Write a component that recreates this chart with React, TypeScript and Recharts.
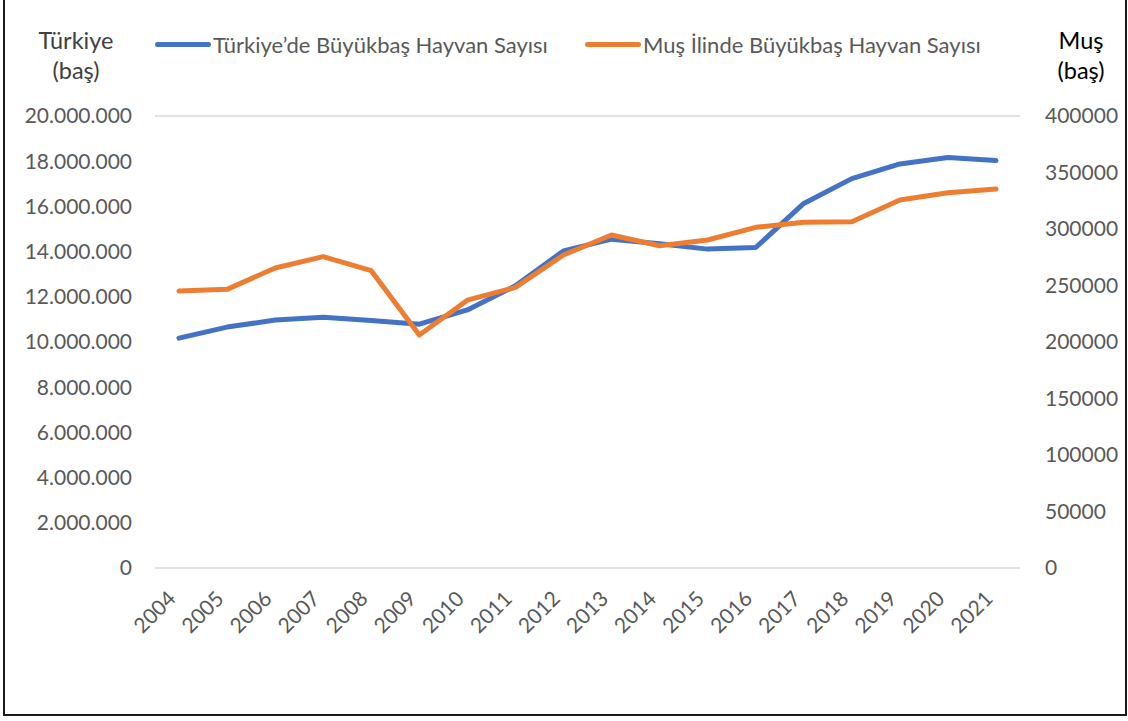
import { CartesianGrid, Legend, Line, LineChart, XAxis, YAxis } from "recharts";

const years = [
  "2004", "2005", "2006", "2007", "2008", "2009", "2010", "2011", "2012",
  "2013", "2014", "2015", "2016", "2017", "2018", "2019", "2020", "2021",
];

const turkiye = [
  10170000, 10660000, 10970000, 11100000, 10950000, 10790000, 11420000, 12490000, 14030000,
  14550000, 14350000, 14110000, 14180000, 16130000, 17230000, 17880000, 18160000, 18030000,
];

const mus = [
  245100, 246600, 265500, 275500, 263100, 206200, 237000, 248400, 277000,
  294700, 285200, 290300, 301500, 305900, 306500, 325700, 332100, 335400,
];

const leftTicks = [0, 2000000, 4000000, 6000000, 8000000, 10000000, 12000000, 14000000, 16000000, 18000000, 20000000];
const rightTicks = [0, 50000, 100000, 150000, 200000, 250000, 300000, 350000, 400000];

const seriesNames = ["Türkiye’de Büyükbaş Hayvan Sayısı", "Muş İlinde Büyükbaş Hayvan Sayısı"];

const data = years.map((year, i) => ({ year, turkiye: turkiye[i], mus: mus[i] }));

const FONT = "Lato, 'Open Sans', sans-serif";
const GREY = "#595959";
const BLUE = "#4472C4";
const ORANGE = "#ED7D31";

const dotted = (v: number) => v.toString().replace(/\B(?=(\d{3})+(?!\d))/g, ".");

function YearTick({ x, y, payload }: any) {
  const ax = x - 2;
  const ay = y + 24;
  return (
    <text
      x={ax}
      y={ay}
      transform={`rotate(-45, ${ax}, ${ay})`}
      textAnchor="end"
      fill={GREY}
      fontSize={21}
      fontFamily={FONT}
    >
      {payload.value}
    </text>
  );
}

function LegendRow() {
  const item = (color: string, label: string, left: number) => (
    <div style={{ position: "absolute", left, top: 0, display: "flex", alignItems: "center" }}>
      <span style={{ width: 56, height: 5, borderRadius: 3, background: color, display: "inline-block" }} />
      <span style={{ marginLeft: 2, color: GREY, fontSize: 22, fontFamily: FONT, whiteSpace: "nowrap" }}>{label}</span>
    </div>
  );
  return (
    <div style={{ position: "relative", height: 28 }}>
      {item(BLUE, seriesNames[0], 155)}
      {item(ORANGE, seriesNames[1], 585)}
    </div>
  );
}

function AxisTitle({ lines, cx, color }: { lines: string[]; cx: number; color: string }) {
  return (
    <text x={cx} y={49} textAnchor="middle" fill={color} fontSize={23.5} fontFamily={FONT}>
      {lines.map((l, i) => (
        <tspan key={i} x={cx} dy={i === 0 ? 0 : 30}>
          {l}
        </tspan>
      ))}
    </text>
  );
}

export default function App() {
  return (
    <div
      style={{
        position: "absolute",
        left: 0,
        top: 0,
        width: 1128,
        height: 721,
        background: "#fff",
      }}
    >
      <div
        style={{
          position: "absolute",
          left: 3,
          top: -4,
          width: 1120,
          height: 718,
          border: "2px solid #1a1a1a",
          borderTop: "none",
        }}
      />
      <LineChart
        width={1128}
        height={721}
        data={data}
        margin={{ top: 116, right: 0, bottom: 93, left: 0 }}
      >
        <CartesianGrid vertical={false} stroke="#d9d9d9" strokeWidth={1.5} />
        <XAxis
          dataKey="year"
          interval={0}
          axisLine={false}
          tickLine={false}
          height={60}
          padding={{ left: 24, right: 24 }}
          tick={<YearTick />}
        />
        <YAxis
          yAxisId="left"
          width={155}
          domain={[0, 20000000]}
          ticks={leftTicks}
          tickFormatter={dotted}
          axisLine={false}
          tickLine={false}
          tickMargin={17}
          tick={{ fill: GREY, fontSize: 21, fontFamily: FONT }}
          label={{ content: () => <AxisTitle lines={["Türkiye", "(baş)"]} cx={76} color="#404040" /> }}
        />
        <YAxis
          yAxisId="right"
          orientation="right"
          width={108}
          domain={[0, 400000]}
          ticks={rightTicks}
          axisLine={false}
          tickLine={false}
          tickMargin={19}
          tick={{ fill: GREY, fontSize: 21, fontFamily: FONT, textAnchor: "start" }}
          label={{ content: () => <AxisTitle lines={["Muş", "(baş)"]} cx={1081} color="#000" /> }}
        />
        <Legend
          verticalAlign="middle"
          content={<LegendRow />}
          wrapperStyle={{ top: 31, left: 0, width: 1128 }}
        />
        <Line
          yAxisId="left"
          dataKey="turkiye"
          name={seriesNames[0]}
          stroke={BLUE}
          strokeWidth={5}
          strokeLinecap="round"
          strokeLinejoin="round"
          dot={false}
          isAnimationActive={false}
        />
        <Line
          yAxisId="right"
          dataKey="mus"
          name={seriesNames[1]}
          stroke={ORANGE}
          strokeWidth={5}
          strokeLinecap="round"
          strokeLinejoin="round"
          dot={false}
          isAnimationActive={false}
        />
      </LineChart>
    </div>
  );
}
